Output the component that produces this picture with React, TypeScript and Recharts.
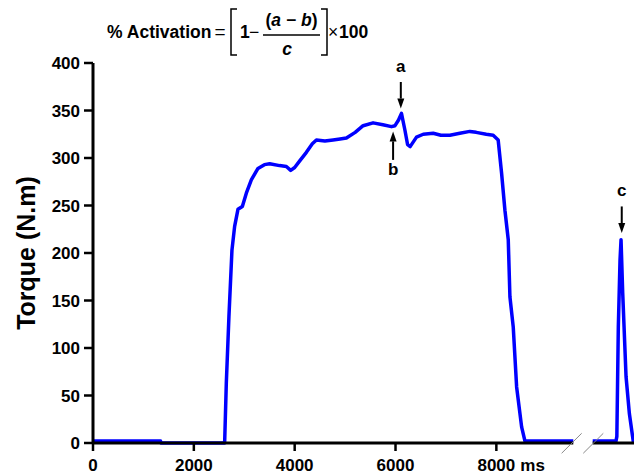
import { LineChart, Line, XAxis, YAxis, ReferenceLine } from 'recharts';

// torque trace, time in ms (points after the axis break are plotted on the same scale)
const timeMs = [
  0, 1340, 1350, 2611, 2644, 2696, 2756, 2809, 2875, 2962, 3041, 3140, 3272, 3400, 3504, 3700,
  3835, 3921, 4000, 4100, 4232, 4350, 4431, 4600, 4761, 4900, 5026, 5200, 5357, 5555, 5750, 5920,
  5990, 6060, 6118, 6184, 6240, 6290, 6416, 6550, 6747, 6900, 7078, 7276, 7475, 7600, 7800, 7937,
  8036, 8104, 8170, 8236, 8269, 8335, 8402, 8501, 8567, 9526, 9700, 9911, 10373, 10390, 10419,
  10453, 10473, 10506, 10572, 10638, 10717, 10730,
];
const torque = [
  2, 2, 0, 0, 63, 133, 203, 228, 246, 249, 263, 277, 289, 293, 294, 292,
  291, 287, 290, 297, 306, 315, 319, 318, 319, 320, 321, 327, 334, 337, 335, 333,
  334, 340, 347, 330, 314, 312, 322, 325, 326, 324, 324, 326, 328, 327, 325, 324,
  319, 284, 245, 214, 154, 122, 59, 17, 2, 2, null, 2, 2, 7, 122,
  193, 214, 158, 70, 31, 1, 0,
];

const xTicks = [0, 2000, 4000, 6000, 8000];
const yTicks = [0, 50, 100, 150, 200, 250, 300, 350, 400];
const xUnit = 'ms';

// a / b / c arrows
const markLabels = ['a', 'b', 'c'];
const markTime = [6105, 5952, 10487];
const markTail = [380, 298, 249];
const markTip = [352, 328, 221];

const data = timeMs.map((t, i) => ({ t, torque: torque[i] }));

const font = '"Liberation Sans", Arial, sans-serif';

function XTick(props: any) {
  const { x, y, payload } = props;
  const last = payload.value === xTicks[xTicks.length - 1];
  return (
    <g>
      <text x={x} y={y} dy="0.71em" textAnchor="middle" fontSize={17} fontWeight="bold" fill="#000" fontFamily={font}>
        {payload.value}
      </text>
      {last && (
        <text x={x + 24} y={y} dy="0.71em" textAnchor="start" fontSize={17} fontWeight="bold" fill="#000" fontFamily={font}>
          {xUnit}
        </text>
      )}
    </g>
  );
}

const arrow = (label: string) => (props: any) => {
  const { x1, y1, x2, y2 } = props;
  const dir = y2 > y1 ? 1 : -1;
  const head = 10;
  const ty = dir > 0 ? y1 - 10 : y1 + 15;
  return (
    <g>
      <line x1={x1} y1={y1} x2={x2} y2={y2 - dir * head} stroke="#000" strokeWidth={2} />
      <polygon points={`${x2},${y2} ${x2 - 3.5},${y2 - dir * head} ${x2 + 3.5},${y2 - dir * head}`} fill="#000" />
      <text x={x1} y={ty} textAnchor="middle" fontSize={17} fontWeight="bold" fill="#000" fontFamily={font}>
        {label}
      </text>
    </g>
  );
};

export default function App() {
  return (
    <div style={{ position: 'absolute', left: 0, top: 0, width: 635, height: 475, background: '#fff' }}>
      <LineChart width={635} height={475} data={data} margin={{ top: 63, right: 1, bottom: 0, left: 0 }}>
        <XAxis
          dataKey="t"
          type="number"
          domain={[0, 10730]}
          ticks={xTicks}
          allowDataOverflow
          axisLine={false}
          tickLine={{ stroke: '#000', strokeWidth: 2.5 }}
          tickSize={8}
          tickMargin={7.5}
          height={32}
          tick={<XTick />}
        />
        <YAxis
          type="number"
          domain={[0, 400]}
          ticks={yTicks}
          width={93}
          axisLine={{ stroke: '#000', strokeWidth: 3 }}
          tickLine={{ stroke: '#000', strokeWidth: 2.5 }}
          tickSize={9}
          tickMargin={4}
          tick={{ fontSize: 17, fontWeight: 'bold', fill: '#000', fontFamily: font }}
        />
        <Line
          type="linear"
          dataKey="torque"
          stroke="#0000FF"
          strokeWidth={3.5}
          strokeLinejoin="round"
          dot={false}
          activeDot={false}
          connectNulls={false}
          isAnimationActive={false}
        />
        {/* x axis drawn in two pieces around the break */}
        <ReferenceLine segment={[{ x: 0, y: 0 }, { x: 9526, y: 0 }]} stroke="#000" strokeWidth={3} />
        <ReferenceLine segment={[{ x: 9911, y: 0 }, { x: 10730, y: 0 }]} stroke="#000" strokeWidth={3} />
        <ReferenceLine segment={[{ x: 9295, y: -10.8 }, { x: 9692, y: 10.2 }]} stroke="#888" strokeWidth={1} ifOverflow="visible" />
        <ReferenceLine segment={[{ x: 9724, y: -10.8 }, { x: 10121, y: 10.2 }]} stroke="#888" strokeWidth={1} ifOverflow="visible" />
        {markLabels.map((m, i) => (
          <ReferenceLine
            key={m}
            segment={[{ x: markTime[i], y: markTail[i] }, { x: markTime[i], y: markTip[i] }]}
            ifOverflow="visible"
            shape={arrow(m)}
          />
        ))}
      </LineChart>
      <svg width={635} height={475} style={{ position: 'absolute', left: 0, top: 0, pointerEvents: 'none' }} fontFamily={font}>
        <text x={35} y={253} transform="rotate(-90 35 253)" textAnchor="middle" fontSize={25} fontWeight="bold" fill="#000">
          Torque (N.m)
        </text>
        <text x={107} y={38} fontSize={17.5} fontWeight="bold" fill="#000">% Activation</text>
        <text x={220} y={38} textAnchor="middle" fontSize={19} fill="#000">=</text>
        <path d="M237 9 H231 V55 H237" fill="none" stroke="#000" strokeWidth={1.5} />
        <text x={240} y={38} fontSize={17.5} fontWeight="bold" fill="#000">1</text>
        <text x={254} y={38} textAnchor="middle" fontSize={17.5} fill="#000">−</text>
        <text x={291.5} y={26} textAnchor="middle" fontSize={17.5} fontWeight="bold" fill="#000">
          (<tspan fontStyle="italic">a</tspan> − <tspan fontStyle="italic">b</tspan>)
        </text>
        <line x1={263} y1={35} x2={320} y2={35} stroke="#000" strokeWidth={1.5} />
        <text x={287} y={55} textAnchor="middle" fontSize={17.5} fontWeight="bold" fontStyle="italic" fill="#000">c</text>
        <path d="M321 9 H327 V55 H321" fill="none" stroke="#000" strokeWidth={1.5} />
        <text x={333} y={38} textAnchor="middle" fontSize={17.5} fill="#000">×</text>
        <text x={339} y={38} fontSize={17.5} fontWeight="bold" fill="#000">100</text>
      </svg>
    </div>
  );
}
